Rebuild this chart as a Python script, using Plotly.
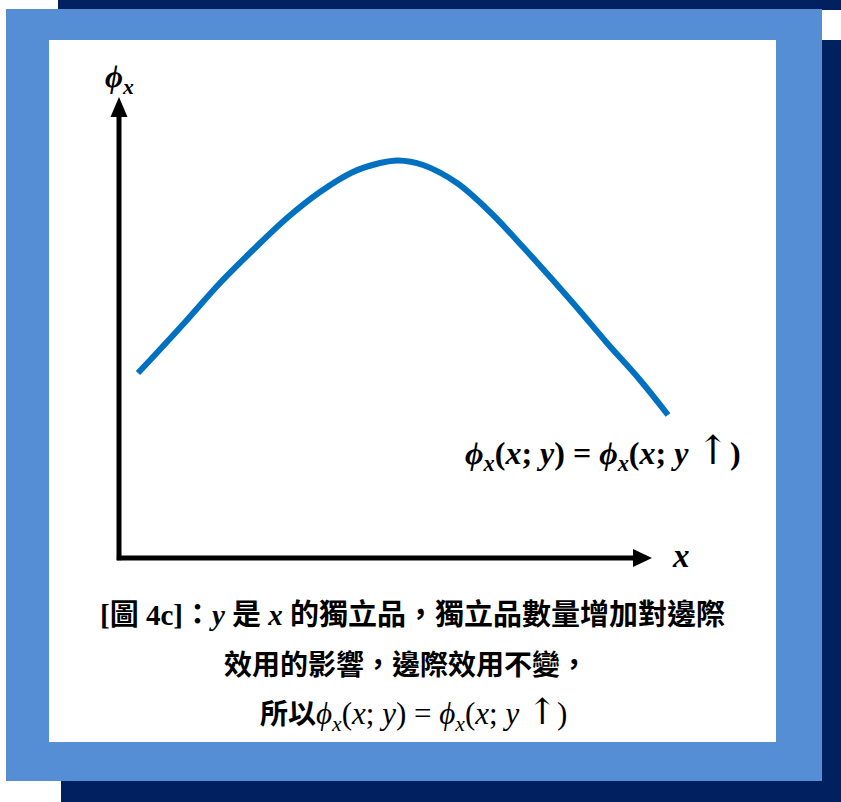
import plotly.graph_objects as go

W, H = 841, 802

# Curve data (conceptual units: axis origin at 0, arrow tips at 10)
x_vals = [0.356, 0.638, 1.276, 1.895, 2.514, 3.152, 3.771, 4.390, 4.897, 5.235, 5.704,
          6.341, 6.961, 7.580, 8.518, 9.156, 9.775, 10.300]
phi_vals = [4.013, 4.360, 5.163, 5.965, 6.681, 7.375, 7.939, 8.373, 8.568, 8.623, 8.525,
            8.134, 7.505, 6.746, 5.531, 4.664, 3.861, 3.102]

x_axis_label = "<b><i>x</i></b>"
y_axis_label = "<b><i>ϕ<sub>x</sub></i></b>"
ARROW_BIG = '<span style="font-size:40px;font-weight:normal;font-family:DejaVu Serif">↑</span>'
ARROW_MED = '<span style="font-size:36px;font-family:DejaVu Serif">↑</span>'
curve_label = ("<b><i>ϕ<sub>x</sub></i>(<i>x</i>; <i>y</i>) = "
               "<i>ϕ<sub>x</sub></i>(<i>x</i>; <i>y</i> " + ARROW_BIG + ")</b>")
caption_lines = [
    "<b>[圖 4c]：<i>y</i> 是 <i>x</i> 的獨立品，獨立品數量增加對邊際</b>",
    "<b>效用的影響，邊際效用不變，</b>",
    ('<b>所以</b><span style="font-size:31px"><i>ϕ<sub>x</sub></i>(<i>x</i>; <i>y</i>) = '
     '<i>ϕ<sub>x</sub></i>(<i>x</i>; <i>y</i> ' + ARROW_MED + ')</span>'),
]

# pixel <-> data scale
UX = 53.3   # px per x unit
UY = 46.1   # px per y unit
OX, OY = 119, 558

x_range = [-OX / UX, (W - OX) / UX]
y_range = [-(H - OY) / UY, OY / UY]

def px(x):
    return x / W

def py(y):
    return 1 - y / H

fig = go.Figure()
fig.add_trace(go.Scatter(
    x=x_vals, y=phi_vals, mode="lines",
    line=dict(color="#0070C0", width=6, shape="spline", smoothing=1.0),
    hoverinfo="skip", showlegend=False,
))

shapes = []
def rect(x0, y0, x1, y1, color):
    shapes.append(dict(type="rect", xref="paper", yref="paper",
                       x0=px(x0), x1=px(x1), y0=py(y1), y1=py(y0),
                       fillcolor=color, line=dict(width=0), layer="below"))

NAVY = "#002060"
LBLUE = "#558ED5"
rect(58, 0, 841, 10, NAVY)
rect(822, 40, 841, 802, NAVY)
rect(61, 781, 841, 802, NAVY)
rect(6, 9, 822, 781, LBLUE)
rect(49, 40, 776, 742, "#FFFFFF")

# axes lines
hx = 19 / UX
hy = 20 / UY
shapes.append(dict(type="line", xref="x", yref="y", x0=-0.04, y0=0, x1=10 - hx, y1=0,
                   line=dict(color="black", width=5)))
shapes.append(dict(type="line", xref="x", yref="y", x0=0, y0=-0.05, x1=0, y1=10 - hy,
                   line=dict(color="black", width=5)))
ah = 9 / UY
shapes.append(dict(type="path", xref="x", yref="y",
                   path=f"M {10 - hx} {ah} L 10 0 L {10 - hx} {-ah} Z",
                   fillcolor="black", line=dict(width=0)))
aw = 8.5 / UX
shapes.append(dict(type="path", xref="x", yref="y",
                   path=f"M {-aw} {10 - hy} L 0 10 L {aw} {10 - hy} Z",
                   fillcolor="black", line=dict(width=0)))

SERIF = "Liberation Serif, Noto Sans CJK TC"
annotations = [
    dict(text=y_axis_label, x=px(119), y=py(79), font=dict(size=31)),
    dict(text=x_axis_label, x=px(681), y=py(556), font=dict(size=33)),
    dict(text=curve_label, x=px(603), y=py(451), font=dict(size=32)),
    dict(text=caption_lines[0], x=px(412), y=py(615), font=dict(size=29)),
    dict(text=caption_lines[1], x=px(406), y=py(665), font=dict(size=28)),
    dict(text=caption_lines[2], x=px(413), y=py(713), font=dict(size=28)),
]
for a in annotations:
    a.update(xref="paper", yref="paper", showarrow=False,
             xanchor="center", yanchor="middle")
    a["font"].update(family=SERIF, color="black")

fig.update_layout(
    width=W, height=H,
    margin=dict(l=0, r=0, t=0, b=0),
    paper_bgcolor="white", plot_bgcolor="rgba(0,0,0,0)",
    xaxis=dict(range=x_range, visible=False, fixedrange=True),
    yaxis=dict(range=y_range, visible=False, fixedrange=True),
    shapes=shapes, annotations=annotations,
)

fig.write_html("out.html", config={"displayModeBar": False},
               post_script="document.body.style.margin='0';document.body.style.overflow='hidden';")
